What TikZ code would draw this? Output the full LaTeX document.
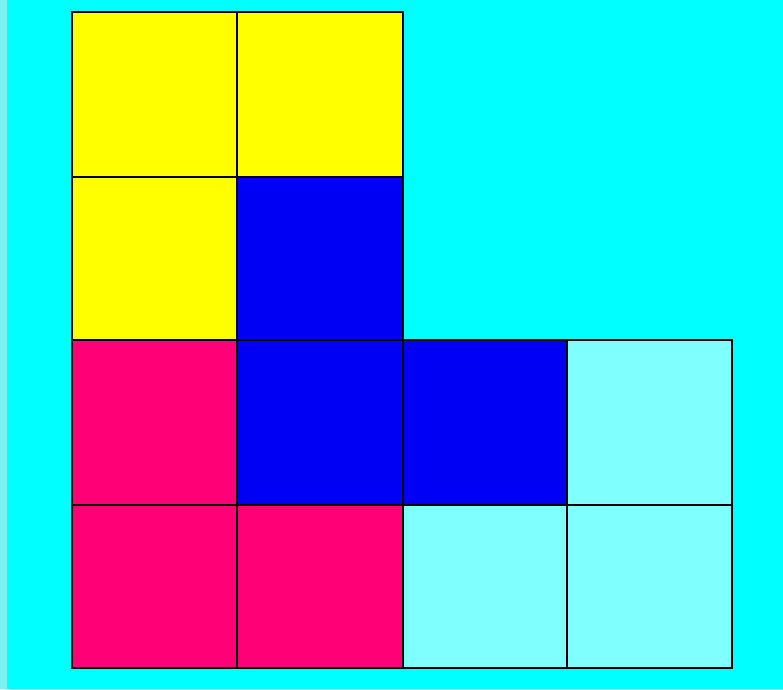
\documentclass[tikz,border=0pt]{standalone}
\begin{document}
\begin{tikzpicture}[x=1pt,y=-1pt,
  cell/.style={draw=black,line width=1.6pt}]
\definecolor{bg}{HTML}{00FFFF}
\definecolor{strip}{HTML}{7FEFEF}
\definecolor{yel}{HTML}{FFFF00}
\definecolor{blu}{HTML}{0000F5}
\definecolor{mag}{HTML}{FF0077}
\definecolor{lcy}{HTML}{80FFFF}
\useasboundingbox (0,0) rectangle (783,689);
\fill[bg] (0,0) rectangle (783,689);
\fill[strip] (0,0) rectangle (7,689);
% row 0
\filldraw[cell,fill=yel] (72,12) rectangle (237,177);
\filldraw[cell,fill=yel] (237,12) rectangle (403,177);
% row 1
\filldraw[cell,fill=yel] (72,177) rectangle (237,340);
\filldraw[cell,fill=blu] (237,177) rectangle (403,340);
% row 2
\filldraw[cell,fill=mag] (72,340) rectangle (237,505);
\filldraw[cell,fill=blu] (237,340) rectangle (403,505);
\filldraw[cell,fill=blu] (403,340) rectangle (567,505);
\filldraw[cell,fill=lcy] (567,340) rectangle (732,505);
% row 3
\filldraw[cell,fill=mag] (72,505) rectangle (237,668);
\filldraw[cell,fill=mag] (237,505) rectangle (403,668);
\filldraw[cell,fill=lcy] (403,505) rectangle (567,668);
\filldraw[cell,fill=lcy] (567,505) rectangle (732,668);
\end{tikzpicture}
\end{document}
